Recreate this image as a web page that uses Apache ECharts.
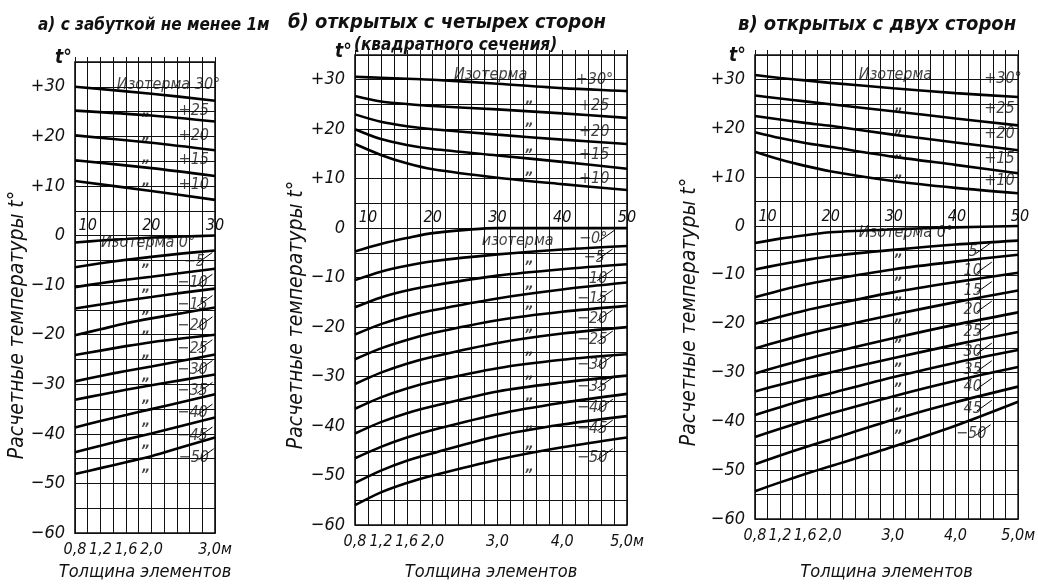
<!DOCTYPE html>
<html>
<head>
<meta charset="utf-8">
<style>
  html, body { margin: 0; background: #fff; }
  #chart { width: 1038px; height: 586px; }
</style>
</head>
<body>
<div id="chart"></div>
<script src="https://cdn.jsdelivr.net/npm/echarts@6/dist/echarts.min.js"></script>
<script>
  // tick labels
  const tempTicks = [30, 20, 10, 0, -10, -20, -30, -40, -50, -60]
  const tempLabels = ['+30', '+20', '+10', '0', '−10', '−20', '−30', '−40', '−50', '−60']
  const thickTicksA = [0.8, 1.2, 1.6, 2.0, 3.0]
  const thickLabelsA = ['0,8', '1,2', '1,6', '2,0', '3,0м']
  const thickTicksB = [0.8, 1.2, 1.6, 2.0, 3.0, 4.0, 5.0]
  const thickLabelsB = ['0,8', '1,2', '1,6', '2,0', '3,0', '4,0', '5,0м']
  const topTicksA = [1, 2, 3]
  const topLabelsA = ['10', '20', '30']
  const topTicksB = [1, 2, 3, 4, 5]
  const topLabelsB = ['10', '20', '30', '40', '50']

  // а) с забуткой не менее 1 м
  const thickUpA = [0.8, 2.0, 3.0]
  const upA = [
    [30, 28.6, 27.2],
    [25.2, 24.2, 23],
    [20.2, 18.7, 17.2],
    [15.2, 13.6, 12],
    [11, 9, 7.2]
  ]
  const thickDownA = [0.8, 1.2, 1.6, 2.0, 2.5, 3.0]
  const downA = [
    [-1.4, -1.0, -0.7, -0.4, -0.2, 0],
    [-6.4, -5.6, -4.9, -4.3, -3.6, -3.0],
    [-10.4, -9.6, -8.9, -8.3, -7.5, -6.7],
    [-14.7, -13.9, -13.1, -12.4, -11.5, -10.7],
    [-20.1, -18.9, -17.7, -16.7, -15.6, -14.5],
    [-24.1, -23.2, -22.3, -21.5, -20.7, -20.0],
    [-29.4, -28.3, -27.3, -26.4, -25.2, -24.0],
    [-33.1, -32.1, -31.1, -30.2, -29.1, -28.0],
    [-38.7, -37.4, -36.2, -35.0, -33.5, -32.0],
    [-43.7, -42.4, -41.1, -39.9, -38.3, -36.7],
    [-48.1, -46.9, -45.7, -44.5, -42.6, -40.7]
  ]

  // б) открытых с четырех сторон
  const thickB = [0.8, 1.2, 1.6, 2.0, 3.0, 4.0, 5.0]
  const upB = [
    [30.6, 30.4, 30.2, 30, 29.2, 28.3, 27.7],
    [26.7, 25.6, 25.1, 24.7, 24, 23.2, 22.3],
    [23, 21.5, 20.6, 20, 18.9, 17.9, 17],
    [20, 18, 16.8, 16, 14.7, 13.4, 12],
    [17, 14.8, 13.1, 11.9, 10.2, 8.9, 7.7]
  ]
  const downB = [
    [-4.7, -3.2, -2.0, -1.0, 0, 0, 0],
    [-10.5, -8.8, -7.6, -6.7, -5.3, -4.3, -3.6],
    [-16, -14, -12.6, -11.6, -9.6, -8.3, -7.3],
    [-21.5, -19.4, -17.8, -16.6, -14.2, -12.4, -11],
    [-26.5, -24.3, -22.6, -21.2, -18.6, -16.9, -15.7],
    [-31.5, -29.2, -27.4, -26, -23.2, -21.3, -20],
    [-36.5, -34.2, -32.4, -31, -28.3, -26.6, -25.5],
    [-41.5, -39.2, -37.4, -36, -33, -31.2, -29.8],
    [-46.5, -44.2, -42.3, -40.8, -37.6, -35.3, -33.5],
    [-51.5, -49, -47, -45.5, -42, -39.7, -38],
    [-56, -53.4, -51.5, -50, -46.8, -44.3, -42.3]
  ]

  // в) открытых с двух сторон
  const thickC = [0.8, 1.2, 1.6, 2.0, 3.0, 4.0, 5.0]
  const upC = [
    [30.9, 30.3, 29.8, 29.3, 28.2, 27.2, 26.4],
    [26.7, 26.1, 25.5, 24.9, 23.5, 22.0, 20.6],
    [22.5, 21.8, 21.1, 20.5, 18.7, 17.1, 15.5],
    [19.2, 18.0, 17.0, 16.2, 14.2, 12.5, 10.8],
    [15.2, 13.6, 12.3, 11.2, 9.2, 7.8, 6.7]
  ]
  const downC = [
    [-3.5, -2.6, -1.9, -1.3, -0.7, -0.3, 0],
    [-8.9, -7.9, -7.0, -6.2, -4.9, -3.8, -3.0],
    [-14.6, -13.2, -12.0, -11.0, -8.9, -7.3, -5.9],
    [-20.0, -18.6, -17.3, -16.2, -13.6, -11.5, -9.6],
    [-25.1, -23.6, -22.2, -21.0, -18.2, -15.6, -13.2],
    [-30.2, -28.7, -27.3, -26.0, -23.0, -20.2, -17.7],
    [-33.9, -32.5, -31.2, -30.0, -27.1, -24.3, -21.7],
    [-38.7, -37.1, -35.6, -34.3, -31.0, -28.0, -25.4],
    [-43.2, -41.5, -39.9, -38.4, -34.9, -31.7, -28.9],
    [-48.8, -47.0, -45.3, -43.7, -39.7, -36.1, -32.9],
    [-54.3, -52.5, -50.8, -49.2, -45.2, -40.9, -36.0]
  ]

  // isotherm captions [text, thickness, temperature]
  const notesUpA = [['Изотерма 30°', 1.45, 30.4], ['+25', 2.42, 25.2], ['+20', 2.42, 20.2], ['+15', 2.42, 15.2], ['+10', 2.42, 10.2]]
  const notesDownA = [['−5', 2.5, -5.2], ['−10', 2.4, -9.6], ['−15', 2.4, -13.9], ['−20', 2.4, -18.2], ['−25', 2.4, -22.8],
    ['−30', 2.4, -27], ['−35', 2.4, -31.4], ['−40', 2.4, -35.8], ['−45', 2.4, -40.4], ['−50', 2.42, -44.8]]
  const notesZeroA = [['Изотерма 0°', 1.2, -1.4]]
  const dittoA = [[1.92, 25], [1.92, 20.2], [1.92, 15.6], [1.92, 11], [1.92, -5.4], [1.92, -10.4], [1.92, -14.8], [1.92, -19],
    [1.92, -23.8], [1.92, -28.4], [1.92, -32.8], [1.92, -37.4], [1.92, -42], [1.92, -46.8]]

  const notesUpB = [['Изотерма', 2.32, 30.9], ['+30°', 4.2, 30], ['+25', 4.25, 24.8], ['+20', 4.25, 19.4], ['+15', 4.25, 14.8], ['+10', 4.25, 10]]
  const notesDownB = [['−0°', 4.25, -2.2], ['−5', 4.32, -6], ['−10', 4.22, -10.2], ['−15', 4.22, -14.3], ['−20', 4.22, -18.3], ['−25', 4.22, -22.6],
    ['−30', 4.22, -27.6], ['−35', 4.22, -32], ['−40', 4.22, -36.4], ['−45', 4.22, -40.6], ['−50', 4.22, -46.4]]
  const notesZeroB = [['изотерма', 2.75, -2.5]]
  const dittoB = [[3.5, 26], [3.5, 21.6], [3.5, 16.4], [3.5, 11.6], [3.5, -6.4], [3.5, -11.4], [3.5, -15.4], [3.5, -20],
    [3.5, -24.6], [3.5, -29.6], [3.5, -34], [3.5, -39.6], [3.5, -43.6], [3.5, -48.4]]

  const notesUpC = [['Изотерма', 2.45, 30.9], ['+30°', 4.45, 30.2], ['+25', 4.45, 24], ['+20', 4.45, 18.9], ['+15', 4.45, 13.8], ['+10', 4.45, 9.3]]
  const notesDownC = [['5', 4.2, -5.3], ['10', 4.12, -9.2], ['15', 4.12, -13.2], ['20', 4.12, -17.2], ['25', 4.12, -21.6],
    ['30', 4.12, -25.8], ['35', 4.12, -29.4], ['40', 4.12, -33], ['45', 4.12, -37.5], ['−50', 4.0, -42.5]]
  const notesZeroC = [['Изотерма 0°', 2.45, -1.5]]
  const dittoC = [[3.1, 24.4], [3.1, 19.9], [3.1, 14.8], [3.1, 10.8], [3.1, -5.5], [3.1, -10.2], [3.1, -14.2], [3.1, -18.7],
    [3.1, -22.8], [3.1, -27.8], [3.1, -31.9], [3.1, -37], [3.1, -41.5]]

  const F = "'Liberation Sans Narrow', 'DejaVu Sans Condensed', 'Liberation Sans', sans-serif"
  const INK = '#111'
  const txt = (size) => ({ color: INK, fontStyle: 'italic', fontFamily: F, fontSize: size })
  const T_MIN = -60
  const T_MAX = 35

  const panels = [
    {
      box: { left: 75, top: 62, width: 140, height: 475 }, max: 3.0,
      ticks: thickTicksA, labels: thickLabelsA, topTicks: topTicksA, topLabels: topLabelsA,
      upX: thickUpA, up: upA, downX: thickDownA, down: downA,
      notesUp: notesUpA, notesDown: notesDownA, notesZero: notesZeroA, ditto: dittoA,
      nameGap: 26
    },
    {
      box: { left: 355, top: 55, width: 272, height: 472 }, max: 5.0,
      ticks: thickTicksB, labels: thickLabelsB, topTicks: topTicksB, topLabels: topLabelsB,
      upX: thickB, up: upB, downX: thickB, down: downB,
      notesUp: notesUpB, notesDown: notesDownB, notesZero: notesZeroB, ditto: dittoB,
      nameGap: 38
    },
    {
      box: { left: 755, top: 55, width: 265, height: 468 }, max: 5.0,
      ticks: thickTicksB, labels: thickLabelsB, topTicks: topTicksB, topLabels: topLabelsB,
      upX: thickC, up: upC, downX: thickC, down: downC,
      notesUp: notesUpC, notesDown: notesDownC, notesZero: notesZeroC, ditto: dittoC,
      nameGap: 44
    }
  ]

  const pick = (ticks, labels) => (v) => {
    const i = ticks.findIndex(t => Math.abs(t - v) < 1e-6)
    return i < 0 ? '' : labels[i]
  }

  const grid = []
  const xAxis = []
  const yAxis = []
  const series = []

  panels.forEach((cfg, p) => {
    grid.push(Object.assign({ show: true, borderColor: INK, borderWidth: 1.6, backgroundColor: 'transparent' }, cfg.box))
    const xi = xAxis.length
    // bottom: thickness
    xAxis.push({
      gridIndex: p, type: 'value', min: 0.8, max: cfg.max, interval: 0.2, position: 'bottom',
      axisLine: { show: false, onZero: false }, axisTick: { show: false },
      splitLine: { show: true, lineStyle: { color: INK, width: 1 } },
      axisLabel: Object.assign({ customValues: cfg.ticks, formatter: pick(cfg.ticks, cfg.labels), margin: 9 }, txt(16)),
      name: 'Толщина элементов', nameLocation: 'middle', nameGap: cfg.nameGap, nameTextStyle: txt(18)
    })
    // top border ticks
    xAxis.push({
      gridIndex: p, type: 'value', min: 0.8, max: cfg.max, interval: 0.2, position: 'top',
      axisLine: { show: false, onZero: false },
      axisTick: { show: true, length: 5, lineStyle: { color: INK, width: 1 } },
      axisLabel: { show: false }, splitLine: { show: false }
    })
    yAxis.push({
      gridIndex: p, type: 'value', min: T_MIN, max: T_MAX, interval: 5,
      axisLine: { show: false, onZero: false }, axisTick: { show: false },
      splitLine: { show: true, lineStyle: { color: INK, width: 1 } },
      axisLabel: Object.assign({ customValues: tempTicks, formatter: pick(tempTicks, tempLabels), margin: 10 }, txt(18))
    })

    const curve = (xs) => (vals) => ({
      type: 'line', xAxisIndex: xi, yAxisIndex: p, smooth: 0.3, symbol: 'none', silent: true,
      lineStyle: { color: '#000', width: 2.6 },
      data: xs.map((x, j) => [x, vals[j]]), z: 3
    })
    cfg.up.forEach(v => series.push(curve(cfg.upX)(v)))
    cfg.down.forEach(v => series.push(curve(cfg.downX)(v)))

    const notes = cfg.notesUp.concat(cfg.notesDown, cfg.notesZero)
    series.push({
      type: 'scatter', xAxisIndex: xi, yAxisIndex: p, symbolSize: 1, silent: true, z: 5,
      itemStyle: { color: 'rgba(0,0,0,0)' },
      label: Object.assign({ show: true, position: 'right', distance: 0, formatter: (q) => q.name }, txt(16)),
      data: notes.map(n => ({ name: n[0], value: [n[1], n[2]] }))
    })
    series.push({
      type: 'scatter', xAxisIndex: xi, yAxisIndex: p, symbolSize: 1, silent: true, z: 5,
      itemStyle: { color: 'rgba(0,0,0,0)' },
      label: Object.assign({ show: true, position: 'inside', formatter: '„' }, txt(14), { fontWeight: 'bold' }),
      data: cfg.ditto
    })
    // short slanted leaders after the captions
    series.push({
      type: 'lines', coordinateSystem: 'cartesian2d', xAxisIndex: xi, yAxisIndex: p, silent: true, z: 4,
      lineStyle: { color: '#000', width: 1, opacity: 1 },
      data: cfg.notesDown.map(n => {
        const x0 = n[1] + n[0].length * 0.1 + 0.02
        return { coords: [[x0, n[2] - 0.4], [Math.min(x0 + 0.24, cfg.max), n[2] + 1.8]] }
      })
    })
  })

  // second scale (10 ... 50) written just above the zero line: a band grid over the warm part
  panels.forEach((cfg, p) => {
    const g = grid.length
    grid.push({
      left: cfg.box.left, top: cfg.box.top, width: cfg.box.width,
      height: cfg.box.height * T_MAX / (T_MAX - T_MIN)
    })
    xAxis.push({
      gridIndex: g, type: 'value', min: 0.8, max: cfg.max, position: 'bottom',
      axisLine: { show: false }, axisTick: { show: false }, splitLine: { show: false },
      axisLabel: Object.assign({ inside: true, customValues: cfg.topTicks, formatter: pick(cfg.topTicks, cfg.topLabels), margin: 3 }, txt(16))
    })
    yAxis.push({ gridIndex: g, type: 'value', min: 0, max: T_MAX, show: false })
  })

  const rotName = (x, y) => ({
    type: 'text', x: x, y: y, rotation: Math.PI / 2,
    style: { text: 'Расчетные температуры t°', align: 'center', verticalAlign: 'middle', fill: INK, fontStyle: 'italic', fontFamily: F, fontSize: 21 }
  })

  const chart = echarts.init(document.getElementById('chart'))
  chart.setOption({
    animation: false,
    backgroundColor: '#fff',
    title: [
      { text: 'а) с забуткой не менее 1м', left: 33, top: 12, textStyle: txt(17) },
      { text: 'б) открытых с четырех сторон', left: 283, top: 8, textStyle: txt(20) },
      { text: '(квадратного сечения)', left: 349, top: 32, textStyle: txt(17) },
      { text: 'в) открытых с двух сторон', left: 733, top: 10, textStyle: txt(20) },
      { text: 't°', left: 50, top: 44, textStyle: txt(19) },
      { text: 't°', left: 330, top: 38, textStyle: txt(19) },
      { text: 't°', left: 724, top: 42, textStyle: txt(19) }
    ],
    graphic: [rotName(18, 325), rotName(297, 315), rotName(690, 312)],
    grid: grid,
    xAxis: xAxis,
    yAxis: yAxis,
    series: series
  })
</script>
</body>
</html>
